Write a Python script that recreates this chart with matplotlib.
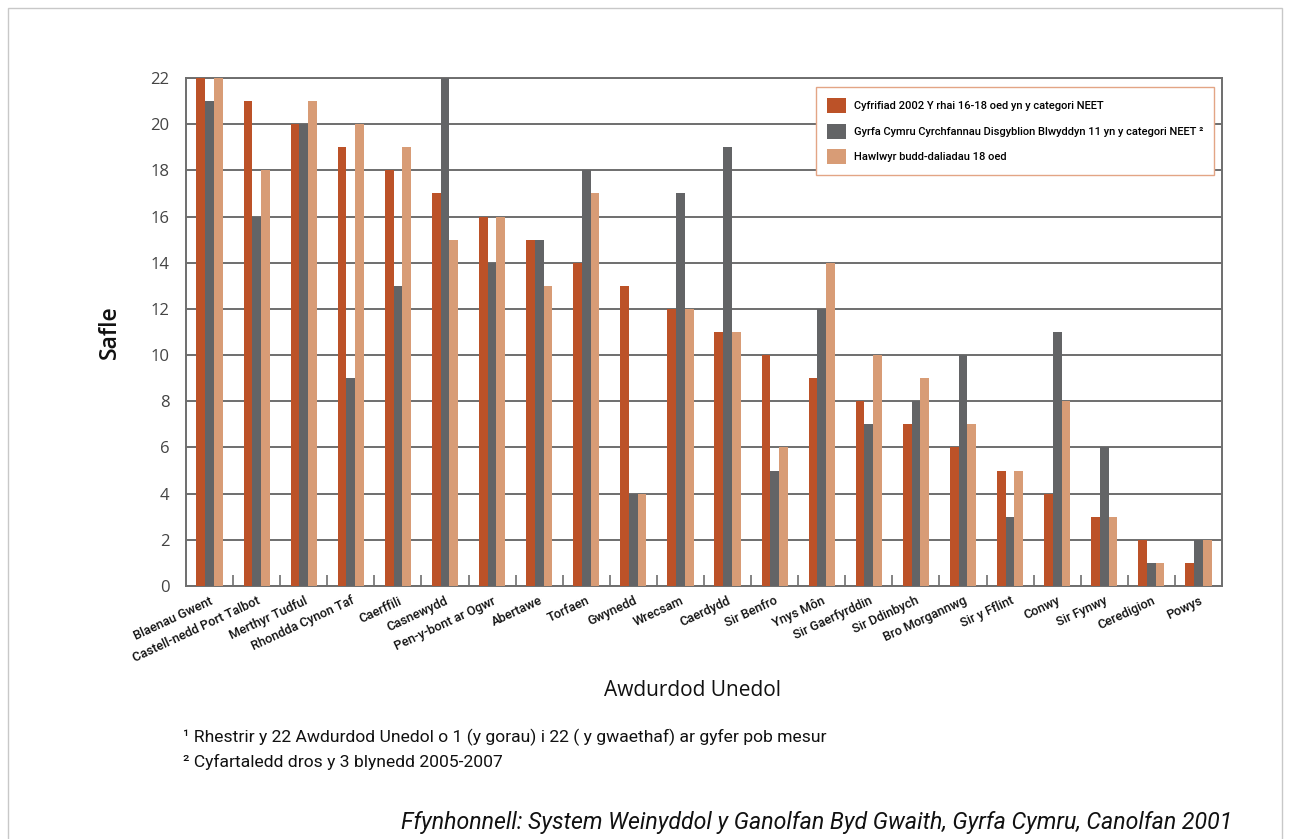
import matplotlib
matplotlib.use("Agg")
import matplotlib.pyplot as plt
from matplotlib.patches import Rectangle
from matplotlib.ticker import FixedLocator
import numpy as np

categories = ["Blaenau Gwent", "Castell-nedd Port Talbot", "Merthyr Tudful",
              "Rhondda Cynon Taf", "Caerffili", "Casnewydd", "Pen-y-bont ar Ogwr",
              "Abertawe", "Torfaen", "Gwynedd", "Wrecsam", "Caerdydd", "Sir Benfro",
              "Ynys Môn", "Sir Gaerfyrddin", "Sir Ddinbych", "Bro Morgannwg",
              "Sir y Fflint", "Conwy", "Sir Fynwy", "Ceredigion", "Powys"]
census_2002 = [22, 21, 20, 19, 18, 17, 16, 15, 14, 13, 12, 11, 10, 9, 8, 7, 6, 5, 4, 3, 2, 1]
gyrfa_cymru = [21, 16, 20, 9, 13, 22, 14, 15, 18, 4, 17, 19, 5, 12, 7, 8, 10, 3, 11, 6, 1, 2]
benefit_18 = [22, 18, 21, 20, 19, 15, 16, 13, 17, 4, 12, 11, 6, 14, 10, 9, 7, 5, 8, 3, 1, 2]
series_labels = ["Cyfrifiad 2002 Y rhai 16-18 oed yn y categori NEET",
                 "Gyrfa Cymru Cyrchfannau Disgyblion Blwyddyn 11 yn y categori NEET \u00b2",
                 "Hawlwyr budd-daliadau 18 oed"]
y_ticks = [0, 2, 4, 6, 8, 10, 12, 14, 16, 18, 20, 22]

colors = ["#BC5228", "#636466", "#D89C76"]
narrow = ["Roboto", "DejaVu Sans"]
main_font = ["Open Sans", "DejaVu Sans"]

W, H = 1290, 839
fig = plt.figure(figsize=(W / 100, H / 100), dpi=100)
fig.patch.set_facecolor("white")
ax = fig.add_axes([186 / W, 1 - 586 / H, (1222 - 186) / W, (586 - 78) / H])

x = np.arange(len(categories))
bw = 0.185
for k, (vals, c, lab) in enumerate(zip([census_2002, gyrfa_cymru, benefit_18], colors, series_labels)):
    ax.bar(x + (k - 1) * bw, vals, width=bw, color=c, label=lab, zorder=3, linewidth=0)

ax.set_xlim(-0.5, len(categories) - 0.5)
ax.set_ylim(0, 22)
ax.set_yticks(y_ticks)
ax.set_yticklabels([str(v) for v in y_ticks], family=main_font, fontsize=12, color="#444444")
ax.tick_params(axis="y", length=0, pad=12)
ax.yaxis.grid(True, color="#6e6e6e", linewidth=1.4, zorder=1)

ax.set_xticks(x)
ax.set_xticklabels(categories, rotation=25, ha="right", rotation_mode="anchor",
                   family=narrow, fontsize=9.2, fontweight="medium", color="#111111")
ax.tick_params(axis="x", which="major", length=0, pad=6)
ax.xaxis.set_minor_locator(FixedLocator(np.arange(0.5, len(categories) - 1, 1.0)))
ax.tick_params(axis="x", which="minor", direction="in", length=8, width=1.2, color="#6e6e6e")

for s in ax.spines.values():
    s.set_color("#6e6e6e")
    s.set_linewidth(1.4)

ax.set_ylabel("Safle", family=main_font, fontsize=16.5, fontweight="semibold",
              color="#111111", labelpad=20)
fig.text(692 / W, 1 - 690 / H, "Awdurdod Unedol", family=main_font, fontsize=15,
         ha="center", va="center", color="#111111")

leg = ax.legend(loc="upper right", bbox_to_anchor=(1214 / W, 1 - 87 / H),
                bbox_transform=fig.transFigure, prop={"family": narrow, "size": 8.0, "weight": "medium"},
                frameon=True, fancybox=False, edgecolor="#E3A585", framealpha=1,
                handlelength=1.7, handleheight=1.7, labelspacing=0.95,
                borderpad=1.0, handletextpad=0.7, borderaxespad=0)
leg.get_frame().set_linewidth(1.0)
leg.set_zorder(5)

fig.text(183 / W, 1 - 737 / H, "\u00b9 Rhestrir y 22 Awdurdod Unedol o 1 (y gorau) i 22 ( y gwaethaf) ar gyfer pob mesur",
         family=narrow, fontsize=12.6, ha="left", va="center", color="#111111")
fig.text(183 / W, 1 - 762 / H, "\u00b2 Cyfartaledd dros y 3 blynedd 2005-2007",
         family=narrow, fontsize=12.6, ha="left", va="center", color="#111111")
fig.text(1232 / W, 1 - 823 / H, "Ffynhonnell: System Weinyddol y Ganolfan Byd Gwaith, Gyrfa Cymru, Canolfan 2001",
         family=narrow, fontsize=16.7, style="italic", ha="right", va="center", color="#111111")

border = Rectangle((8 / W, -0.02), (1282 - 8) / W, 1 - 8 / H + 0.02, transform=fig.transFigure,
                   fill=False, edgecolor="#c8c8c8", linewidth=1.0, clip_on=False)
fig.patches.append(border)

fig.savefig("out.png", dpi=100, facecolor="white")
